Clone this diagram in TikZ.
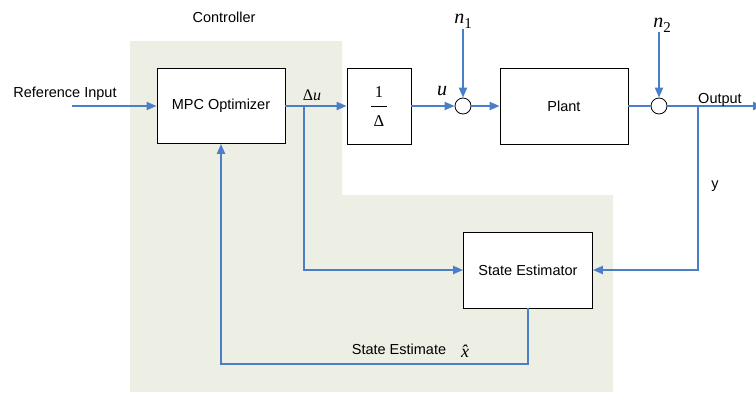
\documentclass[tikz,border=0pt]{standalone}
\usepackage{fontspec}
\setmainfont{Liberation Sans}
\newfontfamily\tms{Liberation Serif}
\usetikzlibrary{arrows.meta}
\definecolor{lineblue}{RGB}{74,126,199}
\definecolor{ctrlshade}{RGB}{238,239,228}
\begin{document}
\begin{tikzpicture}[x=1pt,y=-1pt,
  blk/.style={draw=black,line width=0.8pt,fill=white,inner sep=0pt,font=\fontsize{14.5}{16}\selectfont},
  sumc/.style={circle,draw=black,line width=0.8pt,fill=white,minimum size=16pt,inner sep=0pt},
  wire/.style={draw=lineblue,line width=2pt},
  sig/.style={wire,-{Triangle[length=10pt,width=8pt]}},
  lbl/.style={inner sep=0pt,anchor=base,font=\fontsize{14.5}{16}\selectfont},
  mlbl/.style={inner sep=0pt,anchor=base,font=\tms\itshape\fontsize{20}{20}\selectfont}]
\useasboundingbox (0,0) rectangle (756,392);
% controller shading
\fill[ctrlshade] (130,41) -- (342,41) -- (342,195) -- (613,195) -- (613,392) -- (130,392) -- cycle;
% blocks
\node[blk,minimum width=128pt,minimum height=75pt] (mpc) at (221,106) {MPC Optimizer};
\node[blk,minimum width=64pt,minimum height=76pt] (integ) at (379,106) {};
\node[inner sep=0pt,align=center,font=\tms\fontsize{16.5}{16.5}\selectfont] (frac) at (379,106.5) {1\\[-7pt]\rule{16pt}{0.8pt}\\[3pt]Δ};
\node[sumc] (sum1) at (463,106) {};
\node[blk,minimum width=128pt,minimum height=76pt] (plant) at (564,106) {Plant};
\node[sumc] (sum2) at (659,106) {};
\node[blk,minimum width=129pt,minimum height=76pt] (se) at (528,270) {State Estimator};
% coordinates
\coordinate (refin) at (72,106);
\coordinate (jdu) at (304,106);
\coordinate (n1top) at (463,29);
\coordinate (n2top) at (659,32);
\coordinate (jy) at (698,106);
\coordinate (outend) at (763,106);
% connectors
\draw[sig] (refin) -- (mpc.west);
\draw[sig] (mpc.east) -- (integ.west);
\draw[sig] (integ.east) -- (sum1.west);
\draw[sig] (n1top) -- (sum1.north);
\draw[sig] (sum1.east) -- (plant.west);
\draw[wire] (plant.east) -- (sum2.west);
\draw[sig] (n2top) -- (sum2.north);
\draw[sig] (sum2.east) -- (outend);
\draw[sig] (jdu) |- (se.west);
\draw[sig] (jy) |- (se.east);
\draw[sig] (se.south) -- ++(0,56) -| (mpc.south);
% labels
\node[lbl] (ctrl) at (224,22) {Controller};
\node[lbl] (reflbl) at (65,97) {Reference Input};
\node[lbl] (outlbl) at (720,103) {Output};
\node[lbl] (ylbl) at (715,188) {y};
\node[lbl] (selbl) at (399,354) {State Estimate};
\node[mlbl,font=\tms\itshape\fontsize{18}{18}\selectfont] (xlbl) at (465,357) {x^^^^0302};
\node[inner sep=0pt,anchor=base,font=\tms\fontsize{16}{16}\selectfont] (dulbl) at (312,100) {Δ\textit{u}};
\node[mlbl] (ulbl) at (442,95) {u};
\node[mlbl] (n1lbl) at (463,23) {n\raisebox{-5pt}{\upshape\fontsize{15}{15}\selectfont 1}};
\node[mlbl] (n2lbl) at (662,27) {n\raisebox{-5pt}{\upshape\fontsize{15}{15}\selectfont 2}};
\end{tikzpicture}
\end{document}
